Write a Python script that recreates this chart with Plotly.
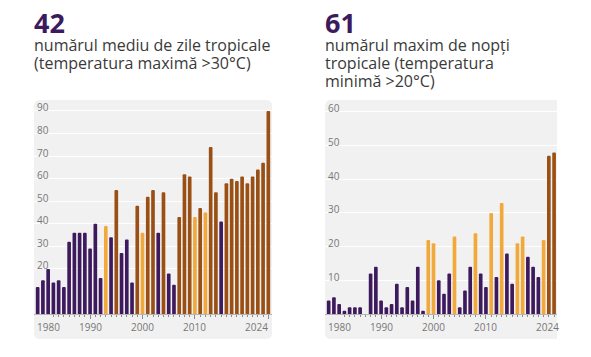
import plotly.graph_objects as go

# ---------------- data ----------------
years_zile = list(range(1980, 2025))
zile_tropicale = [12, 15, 20, 14, 15, 12, 32, 36, 36, 36,
                  29, 40, 16, 39, 34, 55, 27, 33, 14, 48,
                  36, 52, 55, 36, 54, 18, 13, 43, 62, 61,
                  43, 47, 45, 74, 54, 41, 58, 60, 59, 61,
                  58, 61, 64, 67, 90]
zile_categorie = ["P", "P", "P", "P", "P", "P", "P", "P", "P", "P",
                  "P", "P", "P", "Y", "P", "B", "P", "P", "P", "B",
                  "Y", "B", "B", "P", "B", "P", "P", "B", "B", "B",
                  "Y", "B", "Y", "B", "B", "P", "B", "B", "B", "B",
                  "B", "B", "B", "B", "B"]

years_nopti = list(range(1980, 2024))
nopti_tropicale = [4, 5, 3, 1, 2, 2, 2, 0, 12, 14,
                   4, 2, 3, 9, 2, 8, 4, 14, 1, 22,
                   21, 10, 6, 12, 23, 2, 7, 14, 24, 12,
                   8, 30, 11, 33, 18, 9, 21, 23, 17, 14,
                   11, 22, 47, 48]
nopti_categorie = ["P", "P", "P", "P", "P", "P", "P", "P", "P", "P",
                   "P", "P", "P", "P", "P", "P", "P", "P", "P", "Y",
                   "Y", "P", "P", "P", "Y", "P", "P", "P", "Y", "P",
                   "P", "Y", "P", "Y", "P", "P", "Y", "Y", "P", "P",
                   "P", "Y", "B", "B"]

x_tick_labels = [1980, 1990, 2000, 2010, 2024]
y_ticks_zile = [20, 30, 40, 50, 60, 70, 80, 90]
y_ticks_nopti = [10, 20, 30, 40, 50, 60]

title_zile_num = "42"
title_zile_lines = ["numărul mediu de zile tropicale", "(temperatura maximă >30°C)"]
title_nopti_num = "61"
title_nopti_lines = ["numărul maxim de nopți", "tropicale (temperatura", "minimă >20°C)"]

# ---------------- styling ----------------
W, H = 591, 357
FONT = "Open Sans"
PURPLE = "#3d1a5e"
YELLOW = "#f2a93b"
BROWN = "#9a5015"
COLORS = {"P": PURPLE, "Y": YELLOW, "B": BROWN}
PANEL = "#f1f1f1"
TEXT = "#3a3a3a"
TICK = "#777777"
LINE_PX = 18.0          # distance between text baselines in the headers


def px(x):
    return x / W


def py(y):
    return 1 - y / H


def rounded_rect(x0, y0, x1, y1, r):
    rx, ry = r / W, r / H
    X0, X1 = px(x0), px(x1)
    Y0, Y1 = py(y1), py(y0)
    return (f"M {X0+rx},{Y1} L {X1-rx},{Y1} Q {X1},{Y1} {X1},{Y1-ry} "
            f"L {X1},{Y0+ry} Q {X1},{Y0} {X1-rx},{Y0} "
            f"L {X0+rx},{Y0} Q {X0},{Y0} {X0},{Y0+ry} "
            f"L {X0},{Y1-ry} Q {X0},{Y1} {X0+rx},{Y1} Z")


PANEL_TOP, PANEL_BOTTOM = 100, 339
PLOT_TOP = 80
BASE = 314
L0, L1 = 34, 272
R0, R1 = 325, 563
XRANGE = [1979.3, 2024.7]
SCALE_L = 2.256   # px per unit, left
SCALE_R = 3.367   # px per unit, right

fig = go.Figure()
fig.add_trace(go.Bar(
    x=years_zile, y=zile_tropicale, width=0.7,
    marker=dict(color=[COLORS[c] for c in zile_categorie], cornerradius=2, line=dict(width=0)),
    xaxis="x", yaxis="y", showlegend=False, hoverinfo="x+y"))
fig.add_trace(go.Bar(
    x=years_nopti, y=nopti_tropicale, width=0.7,
    marker=dict(color=[COLORS[c] for c in nopti_categorie], cornerradius=2, line=dict(width=0)),
    xaxis="x2", yaxis="y2", showlegend=False, hoverinfo="x+y"))

xaxis_common = dict(
    range=XRANGE, showgrid=False, zeroline=False, showline=True,
    linecolor="#b5b5b5", linewidth=1, ticks="outside", tickvals=x_tick_labels,
    ticklen=4, tickwidth=1, tickcolor="#8a8a8a", showticklabels=False,
    minor=dict(tickvals=years_zile, ticks="outside", ticklen=2, tickwidth=1, tickcolor="#8a8a8a"),
    fixedrange=True,
)
yaxis_common = dict(
    showgrid=True, gridcolor="#ffffff", gridwidth=1, zeroline=False, showline=False,
    ticks="", ticklabelposition="inside top", ticklabelshift=4,
    tickfont=dict(family=FONT, size=10, color=TICK), fixedrange=True,
)

fig.update_layout(
    width=W, height=H,
    margin=dict(l=0, r=0, t=0, b=0),
    paper_bgcolor="white", plot_bgcolor="rgba(0,0,0,0)",
    xaxis=dict(domain=[px(L0), px(L1)], anchor="y", **xaxis_common),
    yaxis=dict(domain=[py(BASE), py(PLOT_TOP)], anchor="x",
               range=[0, (BASE - PLOT_TOP) / SCALE_L], tickvals=y_ticks_zile, **yaxis_common),
    xaxis2=dict(domain=[px(R0), px(R1)], anchor="y2", **xaxis_common),
    yaxis2=dict(domain=[py(BASE), py(PLOT_TOP)], anchor="x2",
                range=[0, (BASE - PLOT_TOP) / SCALE_R], tickvals=y_ticks_nopti, **yaxis_common),
    font=dict(family=FONT, color=TEXT),
)

shapes = [
    dict(type="path", xref="paper", yref="paper", layer="below",
         path=rounded_rect(L0, PANEL_TOP, L1, PANEL_BOTTOM, 6),
         fillcolor=PANEL, line=dict(width=0)),
    dict(type="path", xref="paper", yref="paper", layer="below",
         path=rounded_rect(R0, PANEL_TOP, R1, PANEL_BOTTOM, 6),
         fillcolor=PANEL, line=dict(width=0)),
    # the reference image is cropped on its right side
    dict(type="rect", xref="paper", yref="paper", layer="above",
         x0=px(557), x1=1.0, y0=0, y1=1, fillcolor="white", line=dict(width=0)),
]
fig.update_layout(shapes=shapes)

annotations = []
for left, num, lines in [(L0, title_zile_num, title_zile_lines),
                         (R0, title_nopti_num, title_nopti_lines)]:
    parts = [f'<span style="font-size:27px;color:{PURPLE}"><b>{num}</b></span>']
    parts += [f'<span style="font-size:16px">{ln}</span>' for ln in lines]
    annotations.append(dict(
        text="<br>".join(parts), xref="paper", yref="paper", x=px(left - 1), y=py(3),
        xanchor="left", yanchor="top", align="left", showarrow=False, borderpad=0,
        font=dict(family=FONT, size=LINE_PX / 1.3, color=TEXT)))

for xref, left, right in [("x", L0, L1), ("x2", R0, R1)]:
    for yr in x_tick_labels:
        if yr == x_tick_labels[0]:
            a = dict(xref="paper", x=px(left + 1), xanchor="left")
        elif yr == x_tick_labels[-1]:
            a = dict(xref="paper", x=px(right - 2), xanchor="right")
        else:
            a = dict(xref=xref, x=yr, xanchor="center")
        a.update(text=str(yr), yref="paper", y=py(327), yanchor="middle",
                 showarrow=False, font=dict(family=FONT, size=10, color=TICK))
        annotations.append(a)

fig.update_layout(annotations=annotations)

fig.write_html("out.html", config={"displayModeBar": False},
               post_script="document.body.style.margin='0';")
